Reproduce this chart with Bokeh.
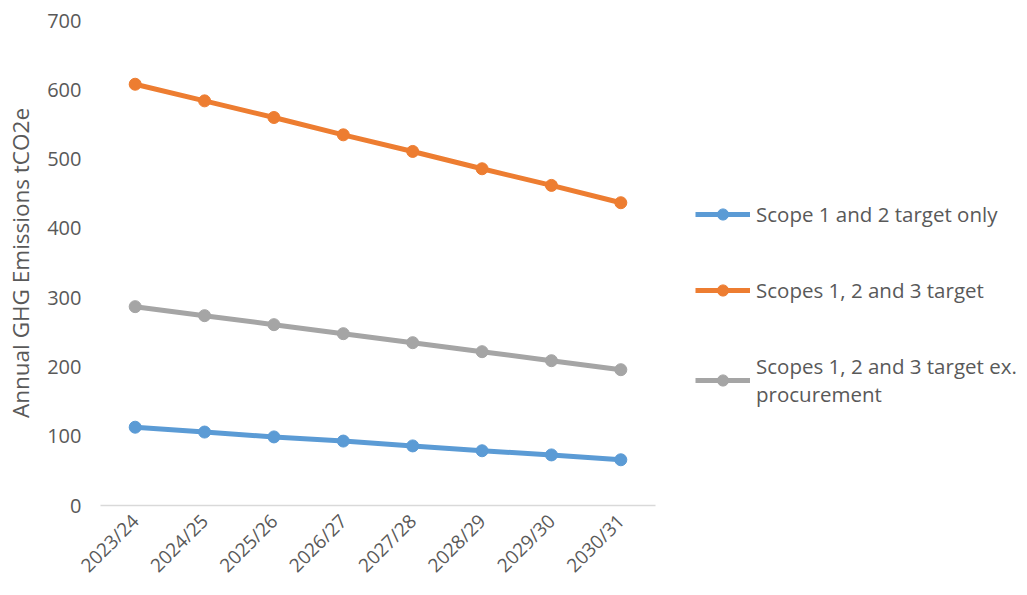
import math
from bokeh.plotting import figure
from bokeh.models import Legend, LegendItem, ColumnDataSource
from bokeh.embed import file_html
from bokeh.resources import INLINE

years = ["2023/24", "2024/25", "2025/26", "2026/27", "2027/28", "2028/29", "2029/30", "2030/31"]
scope12 = [113, 106, 99, 93, 86, 79, 73, 66]
scope123 = [608, 584, 560, 535, 511, 486, 462, 437]
scope123_ex = [287, 274, 261, 248, 235, 222, 209, 196]

series_names = [
    "Scope 1 and 2 target only",
    "Scopes 1, 2 and 3 target",
    "Scopes 1, 2 and 3 target ex.\nprocurement",
]
series_values = [scope12, scope123, scope123_ex]
series_colors = ["#5B9BD5", "#ED7D31", "#A5A5A5"]

FONT = "Open Sans"
TEXT_COLOR = "#595959"

p = figure(
    x_range=years, y_range=(0, 700),
    width=1027, height=595,
    output_backend="svg", toolbar_location=None,
    min_border_left=100, min_border_right=0,
    min_border_top=20, min_border_bottom=90,
)
p.outline_line_color = None
p.xgrid.grid_line_color = None
p.ygrid.grid_line_color = None
p.x_range.range_padding = 0.0

items = []
for name, vals, col in zip(series_names, series_values, series_colors):
    src = ColumnDataSource(dict(x=years, y=vals))
    ln = p.line("x", "y", source=src, line_color=col, line_width=5)
    sc = p.scatter("x", "y", source=src, size=12, fill_color=col, line_color=col)
    items.append(LegendItem(label=name, renderers=[ln, sc]))

# y axis
p.yaxis.axis_line_color = None
p.yaxis.major_tick_line_color = None
p.yaxis.minor_tick_line_color = None
p.yaxis.ticker = [0, 100, 200, 300, 400, 500, 600, 700]
p.yaxis.major_label_text_font = FONT
p.yaxis.major_label_text_font_size = "20px"
p.yaxis.major_label_text_color = TEXT_COLOR
p.yaxis.major_label_standoff = 13
p.yaxis.axis_label = "Annual GHG Emissions tCO2e"
p.yaxis.axis_label_text_font = FONT
p.yaxis.axis_label_text_font_size = "22.5px"
p.yaxis.axis_label_text_font_style = "normal"
p.yaxis.axis_label_text_color = TEXT_COLOR
p.yaxis.axis_label_standoff = 8

# x axis
p.xaxis.axis_line_color = "#D9D9D9"
p.xaxis.axis_line_width = 1.5
p.xaxis.major_tick_line_color = None
p.xaxis.minor_tick_line_color = None
p.xaxis.major_label_orientation = math.pi / 4
p.xaxis.major_label_text_font = FONT
p.xaxis.major_label_text_font_size = "19px"
p.xaxis.major_label_text_color = TEXT_COLOR
p.xaxis.major_label_standoff = 6

legend = Legend(
    items=items,
    location=(40, 97),
    orientation="vertical",
    label_text_font=FONT,
    label_text_font_size="20.5px",
    label_text_color=TEXT_COLOR,
    label_text_line_height=1.05,
    glyph_width=55,
    glyph_height=28,
    label_height=28,
    label_standoff=6,
    spacing=48,
    padding=0,
    margin=0,
    border_line_color=None,
    background_fill_alpha=0,
)
p.add_layout(legend, "right")
p.frame_width = 555

open("out.html", "w").write(file_html(p, INLINE))
